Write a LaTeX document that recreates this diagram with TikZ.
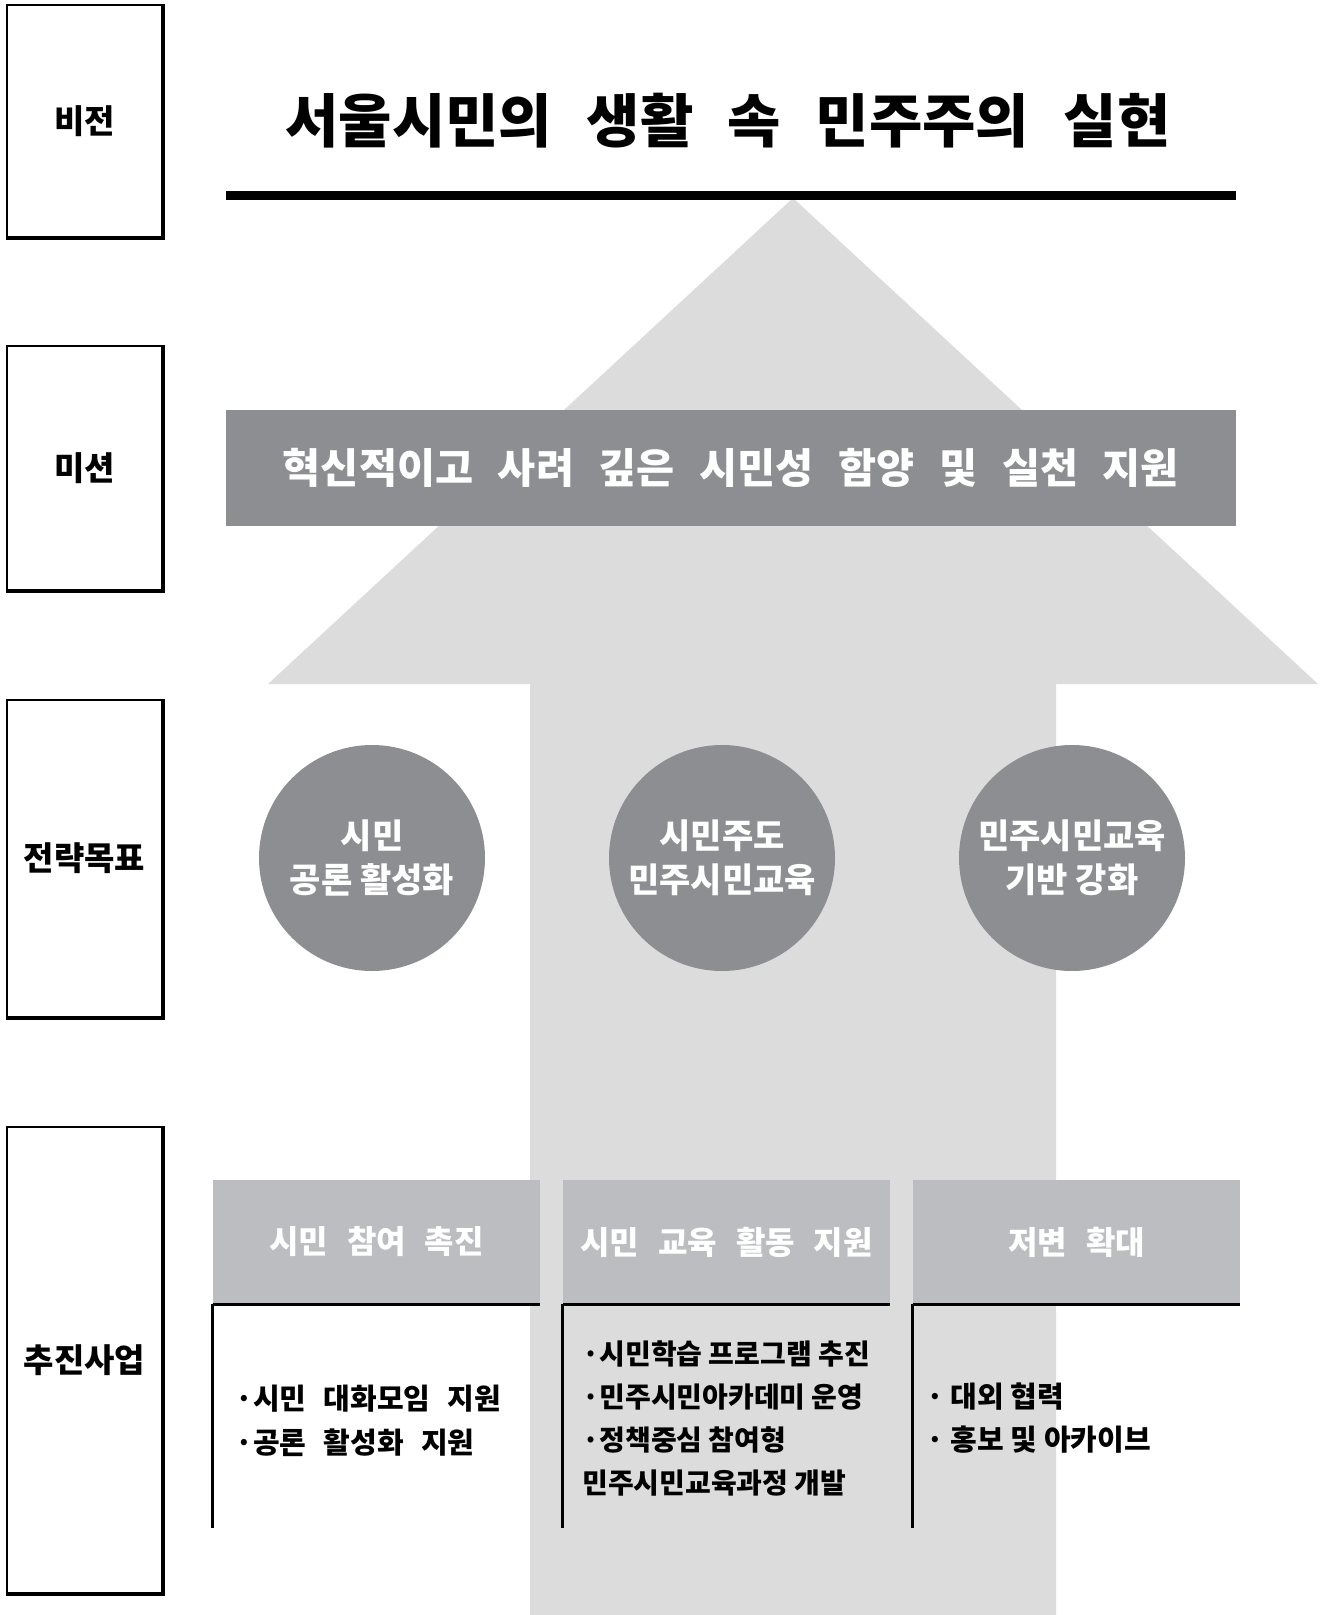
\documentclass[tikz,border=0pt]{standalone}
\usepackage{fontspec}
\usetikzlibrary{positioning}
\setmainfont{Noto Sans CJK KR}
\newfontfamily\krwide[WordSpace=2.6]{Noto Sans CJK KR}
\definecolor{arrowgray}{RGB}{220,220,221}
\definecolor{boxgray}{RGB}{141,142,146}
\definecolor{headgray}{RGB}{188,189,192}
\def\colsep{350}

\begin{document}
\begin{tikzpicture}[x=0.5pt, y=-0.5pt]
            \tikzstyle{rowlabel}=[draw=black, line width=1pt, minimum width=77.5pt, inner sep=0pt, font=\bfseries\fontsize{16.5}{18}\selectfont]
            \tikzstyle{goal}=[circle, fill=boxgray, minimum size=113pt, inner sep=0pt, text=white, align=center, font=\bfseries\fontsize{17}{22}\selectfont]
            \tikzstyle{head}=[fill=headgray, minimum width=163.5pt, minimum height=62pt, inner sep=0pt, text=white, font=\krwide\bfseries\fontsize{16}{18}\selectfont]
            \tikzstyle{items}=[align=left, inner sep=0pt, anchor=west, font=\bfseries\fontsize{14}{21.5}\selectfont]

            \useasboundingbox (0,0) rectangle (1320,1615);

            % Draw the big arrow behind everything
            \fill[arrowgray] (530,1615) -- (530,684) -- (268,684) -- (793,198) -- (1318,684) -- (1056,684) -- (1056,1615) -- cycle;

            % Draw the row labels on the left
            \foreach \id/\txt/\y/\h in {vis/비전/121/116, mis/미션/468/122, goal/전략목표/858.5/158.5, proj/추진사업/1360/233}
            {
                \node[rowlabel, minimum height=\h pt] (L-\id) at (84.5,\y) {\txt};
                \draw[line width=1.6pt] (L-\id.north east) -- (L-\id.south east) -- (L-\id.south west);
            }

            % Vision and mission
            \node[font=\krwide\bfseries\fontsize{29}{32}\selectfont] (vision) at (728,121) {서울시민의 생활 속 민주주의 실현};
            \fill (226,191) rectangle (1236,200);
            \node[fill=boxgray, minimum width=505pt, minimum height=58pt, text=white, font=\krwide\bfseries\fontsize{20.7}{24}\selectfont] (mission) at (731,468) {혁신적이고 사려 깊은 시민성 함양 및 실천 지원};

            % Draw the strategic goals
            \foreach \i/\txt in {1/{시민\\공론 활성화}, 2/{시민주도\\민주시민교육}, 3/{민주시민교육\\기반 강화}}
                \node[goal] (G-\i) at ({372+(\i-1)*\colsep},858) {\txt};

            % Draw the project headers with their brackets
            \foreach \i/\txt in {1/시민 참여 촉진, 2/시민 교육 활동 지원, 3/저변 확대}
            {
                \node[head] (H-\i) at ({376.5+(\i-1)*\colsep},1242) {\txt};
                \draw[line width=1.5pt] (H-\i.south west) -- (H-\i.south east);
                \draw[line width=1.5pt] (H-\i.south west) -- ++(0,224);
            }

            % Project items
            \node[items, font=\krwide\bfseries\fontsize{14.5}{22}\selectfont] (I-1) at (235,1421) {·시민 대화모임 지원\\·공론 활성화 지원};
            \node[items] (I-2) at (582,1418.5) {·시민학습 프로그램 추진\\·민주시민아카데미 운영\\·정책중심 참여형\\민주시민교육과정 개발};
            \node[items, font=\bfseries\fontsize{14.5}{21.5}\selectfont] (I-3) at (926,1418.5) {· 대외 협력\\· 홍보 및 아카이브};

        \end{tikzpicture}
\end{document}
